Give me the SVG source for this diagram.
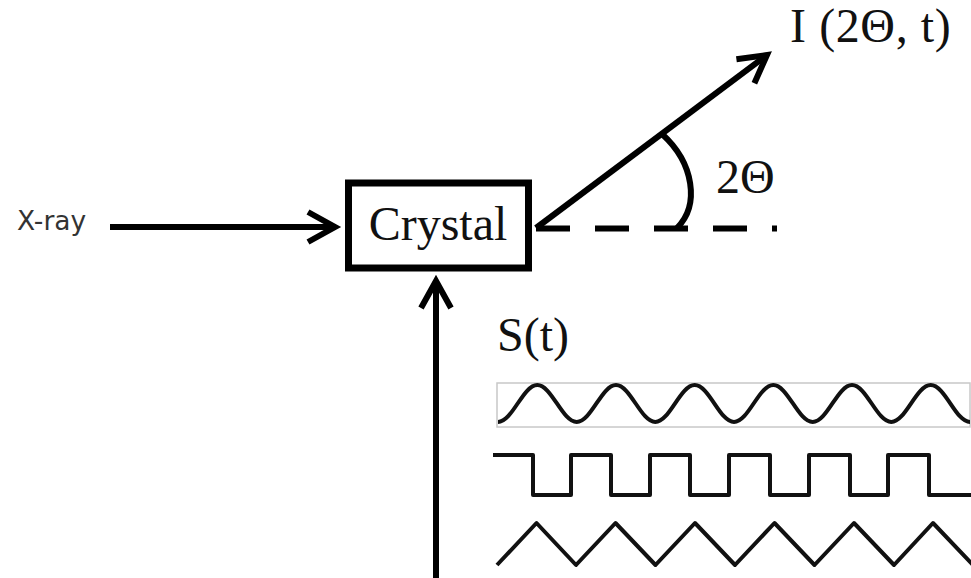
<svg xmlns="http://www.w3.org/2000/svg" width="971" height="578" viewBox="0 0 971 578">
  <style>
    .serif { font-family: "Liberation Serif", "Times New Roman", serif; fill: #111; }
    .sans { font-family: "DejaVu Sans", "Liberation Sans", sans-serif; fill: #333; }
    .conn { stroke: #000; stroke-width: 6; fill: none; }
    .wave { stroke: #111; stroke-width: 4; fill: none; stroke-linejoin: round; }
  </style>
  <defs>
    <marker id="chev" markerUnits="userSpaceOnUse" markerWidth="80" markerHeight="80" refX="0" refY="0" orient="auto" overflow="visible">
      <path d="M -27 -15 L 0 0 L -27 15" fill="none" stroke="#000" stroke-width="6" stroke-linejoin="miter"/>
    </marker>
  </defs>

  <rect width="971" height="578" fill="#fff"/>

  <g id="connectors">
    <line class="conn" x1="110" y1="227" x2="335" y2="227" marker-end="url(#chev)"/>
    <line class="conn" x1="436" y1="578" x2="436" y2="281" marker-end="url(#chev)"/>
    <line class="conn" x1="536" y1="228" x2="767" y2="55" marker-end="url(#chev)"/>
    <line class="conn" x1="536" y1="228.5" x2="777" y2="228.5" stroke-dasharray="34 25"/>
    <path class="conn" d="M662,134 C694,163 700,205 677,228" stroke-width="5"/>
  </g>

  <g id="xray">
    <text class="sans" x="17" y="230" font-size="26.5">X-ray</text>
  </g>

  <g id="crystal">
    <rect x="348.5" y="183" width="180" height="85" fill="#fff" stroke="#000" stroke-width="7"/>
    <text class="serif" x="438" y="240" font-size="48" text-anchor="middle">Crystal</text>
  </g>

  <g id="intensity">
    <text class="serif" x="790" y="42" font-size="48" letter-spacing="0.6">I (2Θ, t)</text>
  </g>

  <g id="angle">
    <text class="serif" x="716" y="193" font-size="48">2Θ</text>
  </g>

  <g id="signal">
    <text class="serif" x="497" y="351" font-size="48">S(t)</text>
    <rect x="497" y="383" width="473" height="44" fill="none" stroke="#c8c8c8" stroke-width="1.5"/>
    <path class="wave" d="M498,422 C512.3,422 523,385 537.3,385 S562.3,422 576.7,422 S601.7,385 616,385 S641,422 655.3,422 S680.3,385 694.7,385 S719.7,422 734,422 S759,385 773.3,385 S798.3,422 812.7,422 S837.7,385 852,385 S877,422 891.3,422 S916.3,385 930.7,385 S955.7,422 970,422"/>
    <path class="wave" d="M493,455 H533 V495 H571 V455 H611 V495 H650 V455 H690 V495 H729 V455 H770 V495 H809 V455 H850 V495 H888 V455 H929 V495 H972"/>
    <path class="wave" stroke-linejoin="miter" d="M497,565 L536.5,523 L576,565 L615.5,523 L655.5,565 L695,523 L735,565 L774.5,523 L814.5,565 L854,523 L894,565 L933,523 L973,565"/>
  </g>
</svg>
